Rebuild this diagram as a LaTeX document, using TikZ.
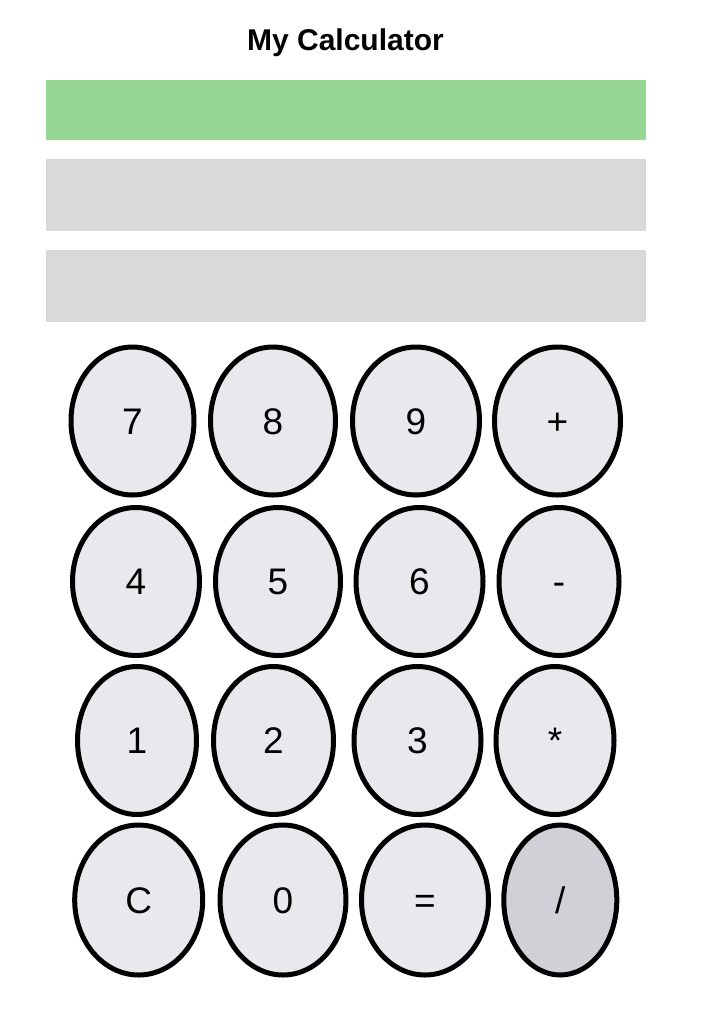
\documentclass[tikz,border=0pt]{standalone}
\usepackage{fontspec}
\setmainfont{Liberation Sans}
\usetikzlibrary{shapes.geometric,positioning}
\definecolor{display}{RGB}{151,215,148}
\definecolor{field}{RGB}{217,217,217}
\definecolor{keyfill}{RGB}{233,233,237}
\definecolor{keydown}{RGB}{208,209,214}
\begin{document}
\begin{tikzpicture}[x=1pt,y=-1pt,
  bar/.style={rectangle, draw=none, inner sep=0pt, minimum width=600pt},
  key/.style={ellipse, draw, line width=5pt, fill=keyfill, inner sep=0pt,
    minimum height=148pt, text height=26.5pt, text depth=0pt,
    font=\fontsize{37}{44}\selectfont}]
\useasboundingbox (0,0) rectangle (702,1023);
\node [anchor=base, font=\bfseries\fontsize{30}{36}\selectfont] (title) at (345.5,50) {My Calculator};
% display and input fields
\node [bar, fill=display, minimum height=60pt] (result) at (346,110) {};
\node [bar, fill=field, minimum height=72pt] (first) at (346,195) {};
\node [bar, fill=field, minimum height=72pt] (second) at (346,286) {};
% keys
\node [key, minimum width=123pt] (k7) at (132.5,421) {7};
\node [key, minimum width=125pt] (k8) at (273,421) {8};
\node [key, minimum width=127pt] (k9) at (416,421) {9};
\node [key, minimum width=126pt] (kplus) at (557.5,421) {+};
\node [key, minimum width=127pt] (k4) at (136,581.5) {4};
\node [key, minimum width=125pt] (k5) at (278,581.5) {5};
\node [key, minimum width=127pt] (k6) at (419.5,581.5) {6};
\node [key, minimum width=120pt] (kminus) at (559,581.5) {-};
\node [key, minimum width=119pt] (k1) at (137,740.5) {1};
\node [key, minimum width=120pt] (k2) at (273.5,740.5) {2};
\node [key, minimum width=127pt] (k3) at (417.5,740.5) {3};
\node [key, minimum width=118pt] (ktimes) at (555,740.5) {*};
\node [key, minimum width=128pt, minimum height=150pt] (kclear) at (138.7,900) {C};
\node [key, minimum width=126pt, minimum height=150pt] (k0) at (283,900) {0};
\node [key, minimum width=127pt, minimum height=150pt] (kequal) at (425,900) {=};
\node [key, minimum width=113pt, minimum height=150pt, fill=keydown] (kdivide) at (560.3,900) {/};
\end{tikzpicture}
\end{document}
